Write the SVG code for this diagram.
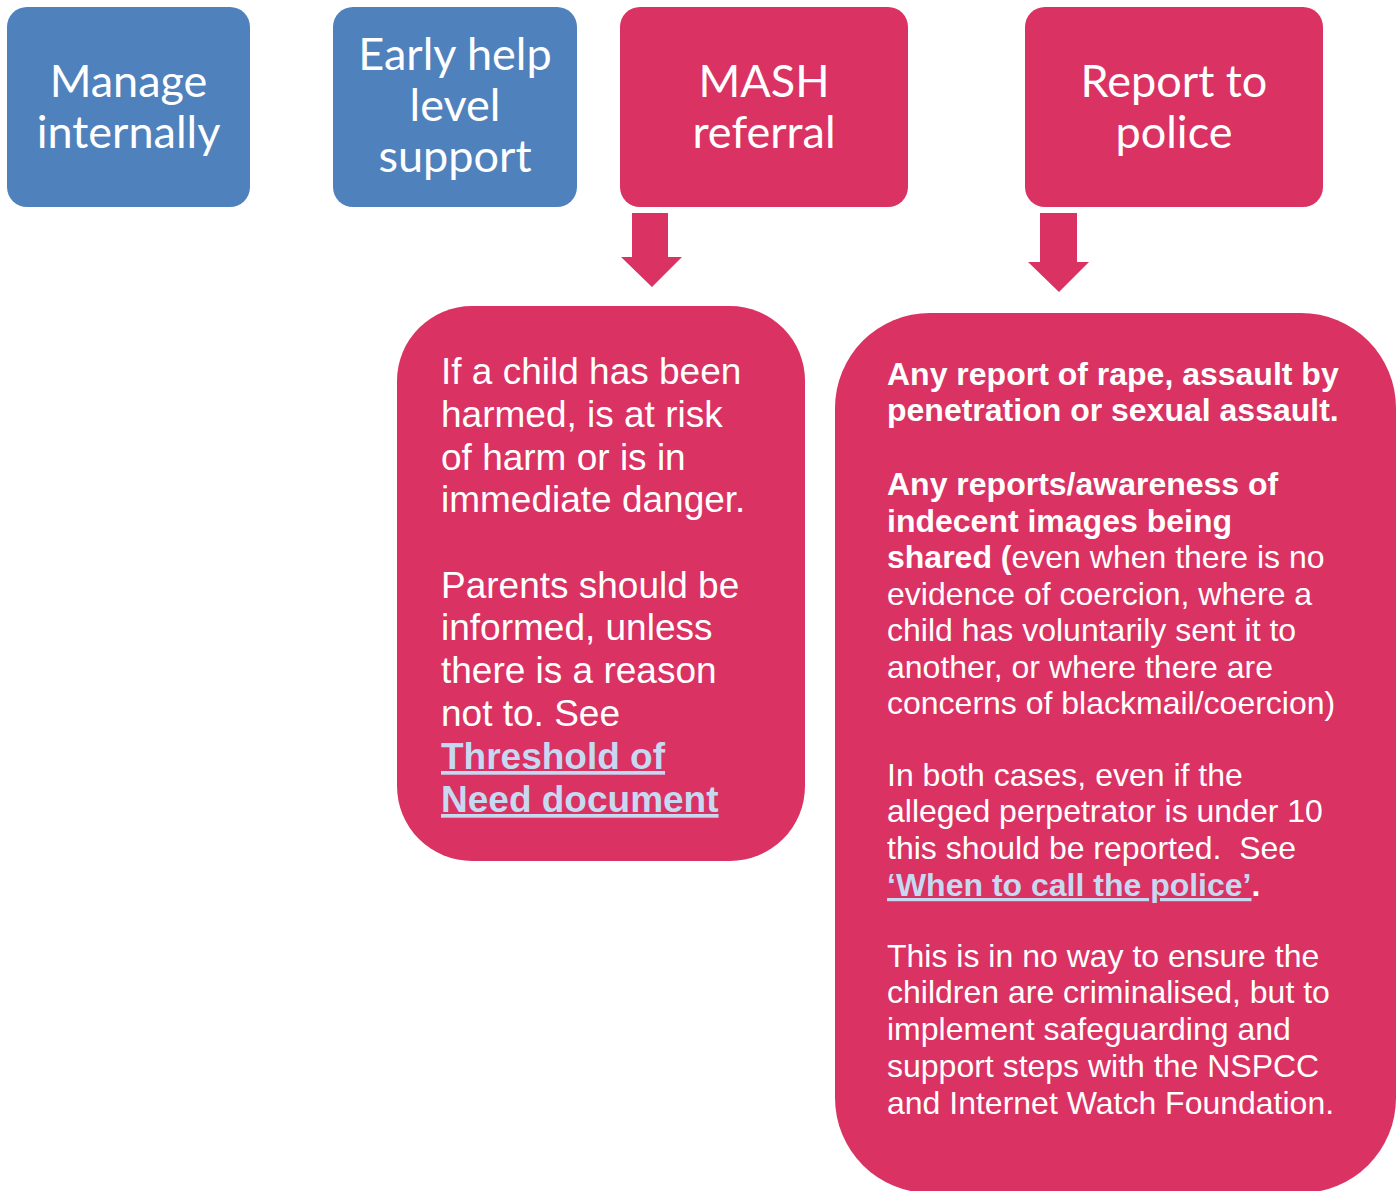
<svg xmlns="http://www.w3.org/2000/svg" width="1399" height="1191" viewBox="0 0 1399 1191">
  <style>
    .blue { fill: #4F81BD; }
    .pink { fill: #DA3263; }
    .head { font-family: Lato, "Open Sans", sans-serif; font-size: 45px; fill: #FFFFFF; text-anchor: middle; }
    .body3 { font-family: "Liberation Sans", Arial, sans-serif; font-size: 37px; fill: #FFFFFF; }
    .body4 { font-family: "Liberation Sans", Arial, sans-serif; font-size: 32px; fill: #FFFFFF; }
    .b { font-weight: bold; }
    .link { font-weight: bold; fill: #C6D9F1; text-decoration: underline; }
    .pre { white-space: pre; }
  </style>
  <rect width="1399" height="1191" fill="#FFFFFF"/>

  <g id="manage-internally">
    <rect class="blue" x="7" y="7" width="243" height="200" rx="20"/>
    <text class="head" x="128.5" y="97">Manage</text>
    <text class="head" x="128.5" y="148">internally</text>
  </g>

  <g id="early-help">
    <rect class="blue" x="333" y="7" width="244" height="200" rx="20"/>
    <text class="head" x="455" y="70">Early help</text>
    <text class="head" x="455" y="121">level</text>
    <text class="head" x="455" y="172">support</text>
  </g>

  <g id="mash-referral">
    <rect class="pink" x="620" y="7" width="288" height="200" rx="20"/>
    <text class="head" x="764" y="97">MASH</text>
    <text class="head" x="764" y="148">referral</text>
  </g>

  <g id="report-police">
    <rect class="pink" x="1025" y="7" width="298" height="200" rx="20"/>
    <text class="head" x="1174" y="97">Report to</text>
    <text class="head" x="1174" y="148">police</text>
  </g>

  <g id="connectors">
    <polygon class="pink" points="632,213 668,213 668,257 682,257 652,287 621,257 632,257"/>
    <polygon class="pink" points="1040,213 1077,213 1077,262 1089,262 1059,292 1028,262 1040,262"/>
  </g>

  <g id="mash-detail">
    <rect class="pink" x="397" y="306" width="408" height="555" rx="75"/>
    <text class="body3">
      <tspan x="441" y="384">If a child has been</tspan>
      <tspan x="441" y="427">harmed, is at risk</tspan>
      <tspan x="441" y="470">of harm or is in</tspan>
      <tspan x="441" y="512">immediate danger.</tspan>
      <tspan x="441" y="598">Parents should be</tspan>
      <tspan x="441" y="640">informed, unless</tspan>
      <tspan x="441" y="683">there is a reason</tspan>
      <tspan x="441" y="726">not to. See</tspan>
      <tspan class="link" x="441" y="769">Threshold of</tspan>
      <tspan class="link" x="441" y="812">Need document</tspan>
    </text>
  </g>

  <g id="police-detail">
    <rect class="pink" x="835" y="313" width="561" height="880" rx="95"/>
    <text class="body4">
      <tspan class="b" x="887" y="385">Any report of rape, assault by</tspan>
      <tspan class="b" x="887" y="421">penetration or sexual assault.</tspan>
      <tspan class="b" x="887" y="495">Any reports/awareness of</tspan>
      <tspan class="b" x="887" y="532">indecent images being</tspan>
      <tspan x="887" y="568"><tspan class="b">shared (</tspan>even when there is no</tspan>
      <tspan x="887" y="605">evidence of coercion, where a</tspan>
      <tspan x="887" y="641">child has voluntarily sent it to</tspan>
      <tspan x="887" y="678">another, or where there are</tspan>
      <tspan x="887" y="714">concerns of blackmail/coercion)</tspan>
      <tspan x="887" y="786">In both cases, even if the</tspan>
      <tspan x="887" y="822">alleged perpetrator is under 10</tspan>
      <tspan class="pre" x="887" y="859">this should be reported.  See</tspan>
      <tspan x="887" y="896"><tspan class="link">‘When to call the police’</tspan><tspan class="b">.</tspan></tspan>
      <tspan x="887" y="967">This is in no way to ensure the</tspan>
      <tspan x="887" y="1003">children are criminalised, but to</tspan>
      <tspan x="887" y="1040">implement safeguarding and</tspan>
      <tspan x="887" y="1077">support steps with the NSPCC</tspan>
      <tspan x="887" y="1114">and Internet Watch Foundation.</tspan>
    </text>
  </g>
</svg>
